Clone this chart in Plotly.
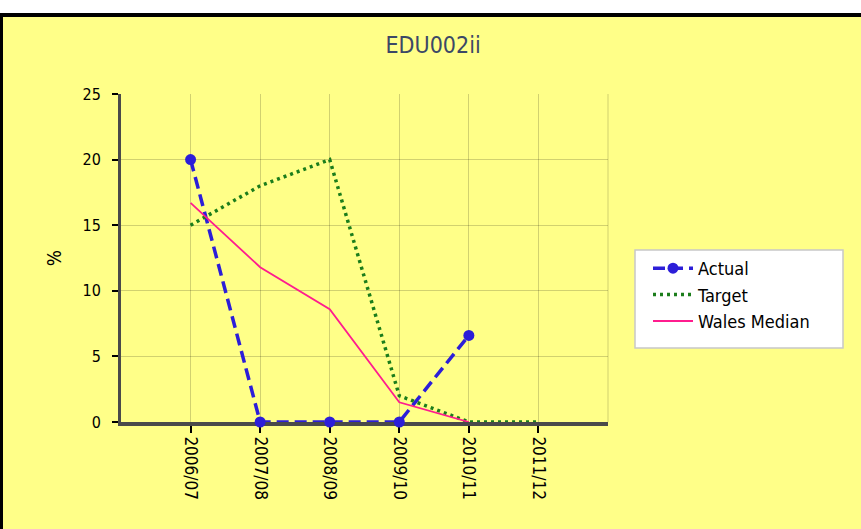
import plotly.graph_objects as go

# Reporting years and series values (percent)
years = ["2006/07", "2007/08", "2008/09", "2009/10", "2010/11", "2011/12"]
actual = [20, 0, 0, 0, 6.6, None]
target = [15, 18, 20, 2, 0, 0]
wales_median = [16.7, 11.8, 8.6, 1.5, 0, None]

BG = "#FFFF88"
FONT = "DejaVu Sans Condensed, DejaVu Sans, sans-serif"

W, H = 861, 529
L, R, T, B = 121, 608, 94, 422  # plot area edges in px


def px_x(x):
    return (x - L) / (R - L)


def px_y(y):
    return (B - y) / (B - T)


fig = go.Figure()
fig.add_trace(go.Scatter(
    x=years, y=actual, name="Actual", mode="lines+markers",
    line=dict(color="#2C1ED8", width=3.5, dash="12px,6px"),
    marker=dict(color="#2C1ED8", size=11, symbol="circle"),
    cliponaxis=False,
))
fig.add_trace(go.Scatter(
    x=years, y=target, name="Target", mode="lines",
    line=dict(color="#1B7D1B", width=3.5, dash="3px,4px"),
    cliponaxis=False,
))
fig.add_trace(go.Scatter(
    x=years, y=wales_median, name="Wales Median", mode="lines",
    line=dict(color="#FF1C8E", width=1.8),
    cliponaxis=False,
))

shapes = [
    # white strip above the frame
    dict(type="rect", xref="paper", yref="paper",
         x0=px_x(0), x1=px_x(W), y0=px_y(13), y1=px_y(0),
         fillcolor="white", line_width=0, layer="below"),
    # black frame: top and left edges
    dict(type="rect", xref="paper", yref="paper",
         x0=px_x(0), x1=px_x(W), y0=px_y(17), y1=px_y(13),
         fillcolor="black", line_width=0),
    dict(type="rect", xref="paper", yref="paper",
         x0=px_x(0), x1=px_x(3), y0=px_y(W), y1=px_y(13),
         fillcolor="black", line_width=0),
    # right edge grid line of the plot area
    dict(type="line", xref="paper", yref="paper",
         x0=1, x1=1, y0=0, y1=1,
         line=dict(color="rgba(0,0,0,0.18)", width=1), layer="below"),
    # legend box
    dict(type="rect", xref="paper", yref="paper",
         x0=px_x(635), x1=px_x(843), y0=px_y(348), y1=px_y(250),
         fillcolor="white", line=dict(color="#C8C8C8", width=1.5)),
]

fig.update_layout(
    width=W, height=H,
    margin=dict(l=L, r=W - R, t=T, b=H - B, pad=0),
    paper_bgcolor=BG, plot_bgcolor=BG,
    font=dict(family=FONT, size=14, color="black"),
    title=dict(text="EDU002ii", x=0.503, xref="container",
               y=1 - 45 / H, yanchor="middle", xanchor="center",
               font=dict(family=FONT, size=23, color="#3C4866")),
    showlegend=True,
    legend=dict(x=px_x(648), y=px_y(250), xanchor="left", yanchor="top",
                bgcolor="rgba(0,0,0,0)", borderwidth=0,
                font=dict(family=FONT, size=18, color="black"),
                itemwidth=40, tracegroupgap=0),
    shapes=shapes,
    xaxis=dict(
        type="category", range=[-1, 6],
        showgrid=True, gridcolor="rgba(0,0,0,0.18)", gridwidth=1,
        showline=True, linecolor="#4A4A4A", linewidth=4,
        ticks="outside", ticklen=7, tickcolor="black", tickwidth=1.5,
        tickangle=90, tickfont=dict(family=FONT, size=17, color="black"),
        zeroline=False, layer="below traces",
    ),
    yaxis=dict(
        range=[0, 25], tickvals=[0, 5, 10, 15, 20, 25],
        showgrid=True, gridcolor="rgba(0,0,0,0.18)", gridwidth=1,
        showline=True, linecolor="#4A4A4A", linewidth=3,
        ticks="outside", ticklen=6, tickcolor="black", tickwidth=1.5,
        ticklabelstandoff=8,
        tickfont=dict(family=FONT, size=16, color="black"),
        title=dict(text="%", standoff=16, font=dict(family=FONT, size=19, color="black")),
        zeroline=False, layer="below traces",
    ),
)

fig.write_html("out.html")
